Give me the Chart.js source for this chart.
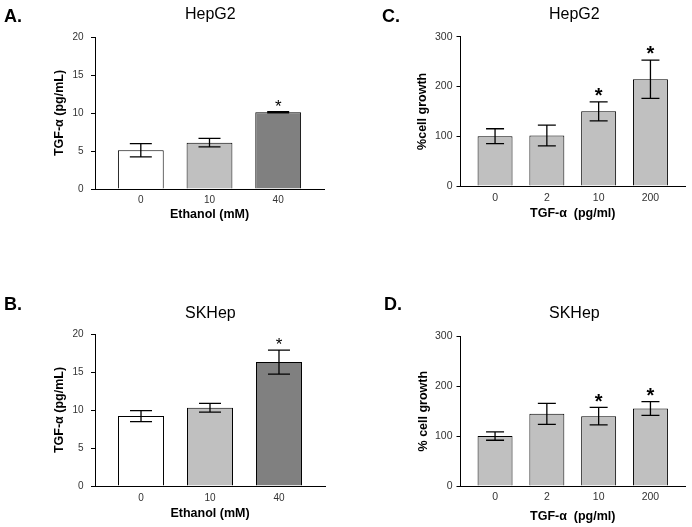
<!DOCTYPE html>
<html>
<head>
<meta charset="utf-8">
<script src="https://cdn.jsdelivr.net/npm/chart.js@4.4.0/dist/chart.umd.min.js"></script>
<style>
  body { margin: 0; background: #fff; font-family: "Liberation Sans", Arial, sans-serif; }
  #fig { position: relative; width: 692px; height: 527px; overflow: hidden; }
  #fig canvas { position: absolute; }
  .letter { position: absolute; font-size: 18px; font-weight: bold; line-height: 1; color: #000; }
  .title { position: absolute; font-size: 16px; line-height: 1; color: #000; white-space: nowrap; }
</style>
</head>
<body>
<div id="fig">
  <canvas id="chartA" width="346" height="230" style="left:0;top:0"></canvas>
  <canvas id="chartB" width="346" height="267" style="left:0;top:260px"></canvas>
  <canvas id="chartC" width="346" height="230" style="left:346px;top:0"></canvas>
  <canvas id="chartD" width="346" height="267" style="left:346px;top:260px"></canvas>

  <div class="letter" style="left:4px;top:7px">A.</div>
  <div class="letter" style="left:4px;top:294.5px">B.</div>
  <div class="letter" style="left:382px;top:6.7px">C.</div>
  <div class="letter" style="left:384px;top:294.5px">D.</div>

  <div class="title" style="left:185px;top:6px">HepG2</div>
  <div class="title" style="left:185px;top:304.7px">SKHep</div>
  <div class="title" style="left:549px;top:5.5px">HepG2</div>
  <div class="title" style="left:549px;top:304.7px">SKHep</div>
</div>

<script>
// ---------- Data ----------
const ethanolLabels = ["0", "10", "40"];
const tgfLabels = ["0", "2", "10", "200"];

// A. HepG2, TGF-alpha secretion vs ethanol
const hepTgfMean = [5.1, 6.1, 10.1];
const hepTgfErr = [0.88, 0.55, 0.08];
const hepTgfSig = [false, false, true];

// B. SKHep, TGF-alpha secretion vs ethanol
const skTgfMean = [9.2, 10.3, 16.3];
const skTgfErr = [0.72, 0.57, 1.58];
const skTgfSig = [false, false, true];

// C. HepG2, growth vs TGF-alpha
const hepGrowthMean = [100, 101.5, 150, 214.5];
const hepGrowthErr = [15, 21, 19, 38.5];
const hepGrowthSig = [false, false, true, true];

// D. SKHep, growth vs TGF-alpha
const skGrowthMean = [100, 144.6, 140, 155.3];
const skGrowthErr = [8.3, 21, 17.7, 13.7];
const skGrowthSig = [false, false, true, true];

const ethanolColors = ["#ffffff", "#c0c0c0", "#808080"];
const growthColor = "#c0c0c0";

Chart.defaults.font.family = '"Liberation Sans", Arial, sans-serif';

// ---------- Error bars + significance stars ----------
const errorBarPlugin = {
  id: "errBars",
  afterDatasetsDraw(chart, args, opts) {
    const { ctx } = chart;
    const y = chart.scales.y;
    const meta = chart.getDatasetMeta(0);
    const values = chart.data.datasets[0].data;
    ctx.save();
    ctx.strokeStyle = "#000";
    ctx.fillStyle = "#000";
    ctx.lineWidth = 1.3;
    meta.data.forEach((bar, i) => {
      const v = values[i].y;
      const e = opts.errors[i];
      const top = y.getPixelForValue(v + e);
      const bot = y.getPixelForValue(v - e);
      const half = opts.capWidth / 2;
      ctx.beginPath();
      ctx.moveTo(bar.x, bot);
      ctx.lineTo(bar.x, top);
      ctx.moveTo(bar.x - half, top);
      ctx.lineTo(bar.x + half, top);
      ctx.moveTo(bar.x - half, bot);
      ctx.lineTo(bar.x + half, bot);
      ctx.stroke();
      if (opts.sig[i]) {
        ctx.font = opts.starWeight + " " + opts.starSize + "px " + Chart.defaults.font.family;
        ctx.textAlign = "center";
        ctx.textBaseline = "alphabetic";
        ctx.fillText("*", bar.x, top - opts.starGap + 0.57 * opts.starSize);
      }
    });
    ctx.restore();
  },
};

function makeChart(id, p) {
  const canvas = document.getElementById(id);
  const W = canvas.width, H = canvas.height;
  const n = p.labels.length;
  return new Chart(canvas, {
    type: "bar",
    data: {
      datasets: [{
        data: p.mean.map((v, i) => ({ x: i, y: v })),
        backgroundColor: p.colors,
        borderColor: "#000",
        borderWidth: 1,
        categoryPercentage: 1,
        barPercentage: p.barFrac,
      }],
    },
    options: {
      responsive: false,
      animation: false,
      events: [],
      layout: { padding: { left: 0, top: p.area.top, right: W - p.area.right, bottom: 0 } },
      plugins: {
        legend: { display: false },
        tooltip: { enabled: false },
        errBars: {
          errors: p.err, sig: p.sig, capWidth: p.capWidth,
          starSize: p.starSize, starWeight: p.starWeight, starGap: p.starGap,
        },
      },
      scales: {
        x: {
          type: "linear",
          bounds: "data",
          offset: false,
          min: -0.667,
          max: n - 1 + 0.667,
          afterFit: (s) => { s.height = H - p.area.bottom; },
          afterBuildTicks: (s) => { s.ticks = p.labels.map((_, i) => ({ value: i })); },
          ticks: {
            callback: (v) => p.labels[v],
            autoSkip: false,
            maxRotation: 0,
            color: "#333",
            font: { size: p.tickSize },
            padding: p.xTickPad,
          },
          grid: { display: false, drawTicks: false, offset: false },
          border: { display: true, color: "#000", width: 1 },
          title: {
            display: true, text: p.xTitle, color: "#000",
            font: { size: 12.5, weight: "bold" },
            padding: { top: 0, bottom: p.xTitlePad },
          },
        },
        y: {
          min: 0,
          max: p.yMax,
          afterFit: (s) => { s.width = p.area.left; },
          ticks: {
            stepSize: p.yStep,
            color: "#333",
            font: { size: p.tickSize },
            padding: p.yTickPad,
          },
          grid: { drawOnChartArea: false, drawTicks: true, tickLength: 4, color: "#000", lineWidth: 1 },
          border: { display: true, color: "#000", width: 1 },
          title: {
            display: true, text: p.yTitle, color: "#000",
            font: { size: 12.5, weight: "bold" },
            padding: { top: p.yTitlePad, bottom: 0 },
          },
        },
      },
    },
    plugins: [errorBarPlugin],
  });
}

// ---------- Charts ----------
const ethanolStyle = {
  labels: ethanolLabels, colors: ethanolColors, barFrac: 0.667,
  yMax: 20, yStep: 5, tickSize: 10, yTickPad: 7.5,
  yTitle: "TGF-\u03b1 (pg/mL)", xTitle: "Ethanol (mM)", yTitlePad: 52.5,
  capWidth: 22, starSize: 17, starWeight: "normal", starGap: 9.5,
};
const growthStyle = {
  labels: tgfLabels, colors: growthColor, barFrac: 0.675,
  yMax: 300, yStep: 100, tickSize: 10.5, yTickPad: 4,
  xTitle: "TGF-\u03b1  (pg/ml)",
  capWidth: 18, starSize: 20, starWeight: "bold", starGap: 11,
};

makeChart("chartA", Object.assign({}, ethanolStyle, {
  mean: hepTgfMean, err: hepTgfErr, sig: hepTgfSig,
  area: { left: 95, right: 324, top: 37, bottom: 189 },
  xTickPad: 5, xTitlePad: 7.5,
}));

makeChart("chartB", Object.assign({}, ethanolStyle, {
  mean: skTgfMean, err: skTgfErr, sig: skTgfSig,
  area: { left: 95, right: 325, top: 74, bottom: 226 },
  xTickPad: 6, xTitlePad: 6.2,
}));

makeChart("chartC", Object.assign({}, growthStyle, {
  mean: hepGrowthMean, err: hepGrowthErr, sig: hepGrowthSig,
  yTitle: "%cell growth", yTitlePad: 69.2,
  area: { left: 114.5, right: 339, top: 36.7, bottom: 186 },
  xTickPad: 5.4, xTitlePad: 9.2,
}));

makeChart("chartD", Object.assign({}, growthStyle, {
  mean: skGrowthMean, err: skGrowthErr, sig: skGrowthSig,
  yTitle: "% cell growth", yTitlePad: 69.7,
  area: { left: 114.5, right: 339, top: 76.3, bottom: 226 },
  xTickPad: 5, xTitlePad: 2.8,
}));
</script>
</body>
</html>
